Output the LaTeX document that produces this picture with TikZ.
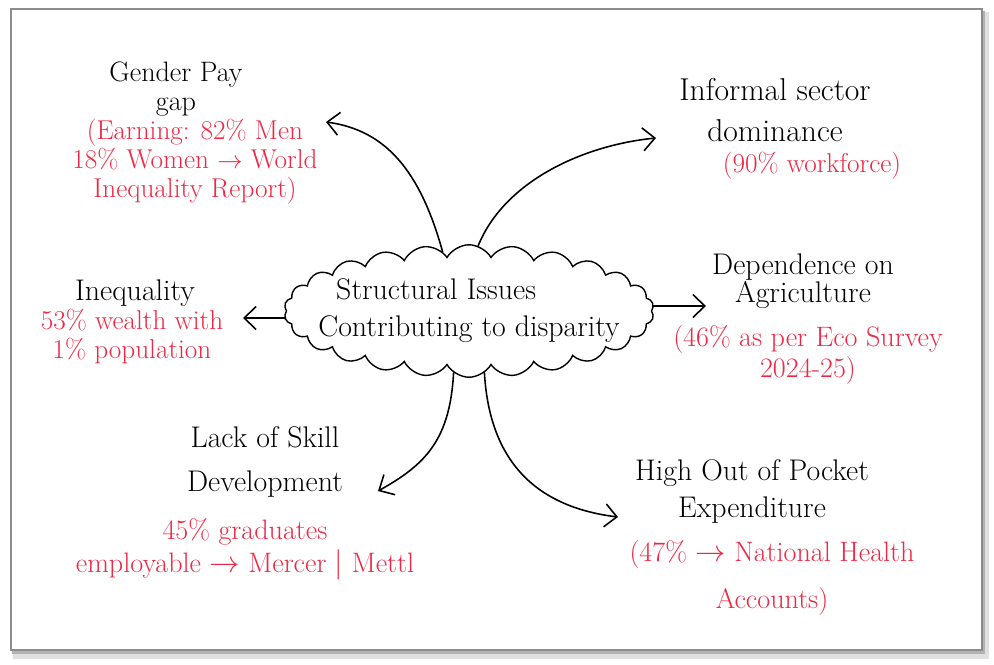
\documentclass[tikz,border=0pt]{standalone}
\usetikzlibrary{shapes.symbols,arrows.meta}
\definecolor{notered}{RGB}{238,40,68}

\begin{document}
\begin{tikzpicture}[x=0.02cm,y=-0.02cm]
\tikzstyle{every node}+=[inner sep=0pt]
\tikzset{head/.style={align=center,font=\fontsize{17}{23}\selectfont},
  note/.style={align=center,text=notered,font=\fontsize{15.5}{16.5}\selectfont},
  branch/.style={-{Straight Barb[length=2.4mm,width=4.6mm]},line width=0.9pt,line cap=round}}
\useasboundingbox (0,0) rectangle (994,664);
% card with shadow
\fill [black!12] (13,12) rectangle (989,659);
\fill [black!30] (12,11) rectangle (985,654);
\draw [fill=white,draw=black!45,line width=0.7pt] (11,9) rectangle (982,650);
% centre
\node (hub) [cloud,draw,line width=0.8pt,cloud puffs=26,cloud puff arc=120,aspect=2.8,inner xsep=-40pt,inner ysep=-14pt,minimum width=7.4cm,minimum height=2.65cm,align=left,font=\fontsize{17}{21}\selectfont] at (469,311) {\hspace{0.6em}Structural Issues\\Contributing to disparity};
% branches
\node (gpay) [head,font=\fontsize{16}{17}\selectfont] at (176,89) {Gender Pay\\gap};
\node (gpaynote) [note] at (195,162) {(Earning: 82\% Men\\18\% Women $\rightarrow$ World\\Inequality Report)};
\node (infsec) [head,font=\fontsize{18}{23}\selectfont] at (775,110) {Informal sector\\dominance};
\node (infsecnote) [note] at (812,166) {(90\% workforce)};
\node (ineq) [head] at (135,293) {Inequality};
\node (ineqnote) [note] at (132,336) {53\% wealth with\\1\% population};
\node (agri) [head,font=\fontsize{17}{16}\selectfont] at (803,281) {Dependence on\\Agriculture};
\node (agrinote) [note,font=\fontsize{16}{18}\selectfont] at (808,355) {(46\% as per Eco Survey\\2024-25)};
\node (skill) [head,font=\fontsize{17}{25}\selectfont] at (265,462) {Lack of Skill\\Development};
\node (skillnote) [note,font=\fontsize{16}{19}\selectfont] at (245,549) {45\% graduates\\employable $\rightarrow$ Mercer $|$ Mettl};
\node (oop) [head,font=\fontsize{17}{21}\selectfont] at (752,491) {High Out of Pocket\\Expenditure};
\node (oopnote) [note,font=\fontsize{16}{27}\selectfont] at (772,578) {(47\% $\rightarrow$ National Health\\Accounts)};
% arrow ends
\coordinate (gpaytip) at (326,122);
\coordinate (infsectip) at (656,138);
\coordinate (ineqtip) at (243,318);
\coordinate (agritip) at (706,306);
\coordinate (skilltip) at (378,491);
\coordinate (ooptip) at (618,517);
\draw [branch] (hub.114) .. controls (420,170) and (385,130) .. (gpaytip);
\draw [branch] (hub.82) .. controls (505,180) and (585,145) .. (infsectip);
\draw [branch] (hub.west |- ineqtip) -- (ineqtip);
\draw [branch] (hub.east |- agritip) -- (agritip);
\draw [branch] (hub.256) .. controls (450,440) and (425,465) .. (skilltip);
\draw [branch] (hub.284) .. controls (490,470) and (545,508) .. (ooptip);
\end{tikzpicture}
\end{document}
